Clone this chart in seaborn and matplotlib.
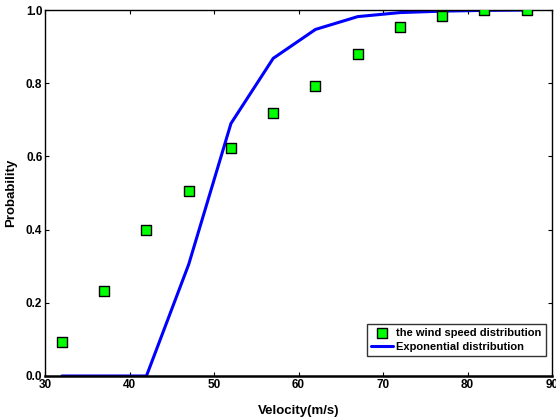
import matplotlib
matplotlib.use("Agg")
import matplotlib.pyplot as plt
import seaborn as sns
import pandas as pd

velocity = [32, 37, 42, 47, 52, 57, 62, 67, 72, 77, 82, 87]
wind_prob = [0.094, 0.232, 0.399, 0.506, 0.624, 0.718, 0.792, 0.881, 0.953, 0.984, 0.999, 1.0]
exp_prob = [0.0, 0.0, 0.0, 0.305, 0.69, 0.868, 0.947, 0.982, 0.993, 0.997, 0.999, 1.0]

sns.set_style("ticks")
plt.rcParams['font.family'] = ['Liberation Sans', 'DejaVu Sans']
plt.rcParams['font.weight'] = 'bold'
plt.rcParams['text.color'] = 'black'
plt.rcParams['axes.labelcolor'] = 'black'
plt.rcParams['xtick.color'] = 'black'
plt.rcParams['ytick.color'] = 'black'
plt.rcParams['axes.edgecolor'] = 'black'

df = pd.DataFrame({"v": velocity, "w": wind_prob, "e": exp_prob})

fig = plt.figure(figsize=(5.56, 4.18), dpi=100)
ax = fig.add_axes([0.081, 0.1005, 0.912, 0.8755])

sns.lineplot(data=df, x="v", y="e", ax=ax, color="#0000ff", linewidth=2.2,
             label="Exponential distribution", zorder=2)
sns.scatterplot(data=df, x="v", y="w", ax=ax, marker="s", s=60, color="#00ff00",
                edgecolor="black", linewidth=1.0, label="the wind speed distribution", zorder=3)

ax.set_xlim(30, 90)
ax.set_ylim(0, 1)
ax.set_xticks([30, 40, 50, 60, 70, 80, 90])
ax.set_yticks([0.0, 0.2, 0.4, 0.6, 0.8, 1.0])
ax.set_yticklabels(["0.0", "0.2", "0.4", "0.6", "0.8", "1.0"])
ax.tick_params(direction="in", length=3, width=0.8, labelsize=8.5, top=True, right=True, pad=2)
for lab in ax.get_xticklabels() + ax.get_yticklabels():
    lab.set_fontweight("bold")
for s in ax.spines.values():
    s.set_linewidth(1.0)
    s.set_visible(True)
ax.spines['bottom'].set_linewidth(1.8)
ax.set_xlabel("Velocity(m/s)", fontsize=9.5, fontweight="bold", labelpad=10)
ax.set_ylabel("Probability", fontsize=9.5, fontweight="bold", labelpad=6)

handles, labels = ax.get_legend_handles_labels()
order = [1, 0]
leg = ax.legend([handles[i] for i in order], [labels[i] for i in order],
                loc="lower right", fontsize=8, frameon=True, fancybox=False,
                edgecolor="black", handlelength=2.0, handletextpad=0.3,
                borderpad=0.35, labelspacing=0.35, bbox_to_anchor=(0.998, 0.04))
leg.get_frame().set_linewidth(1.0)
for t in leg.get_texts():
    t.set_fontweight("bold")

fig.savefig("out.png", dpi=100)
